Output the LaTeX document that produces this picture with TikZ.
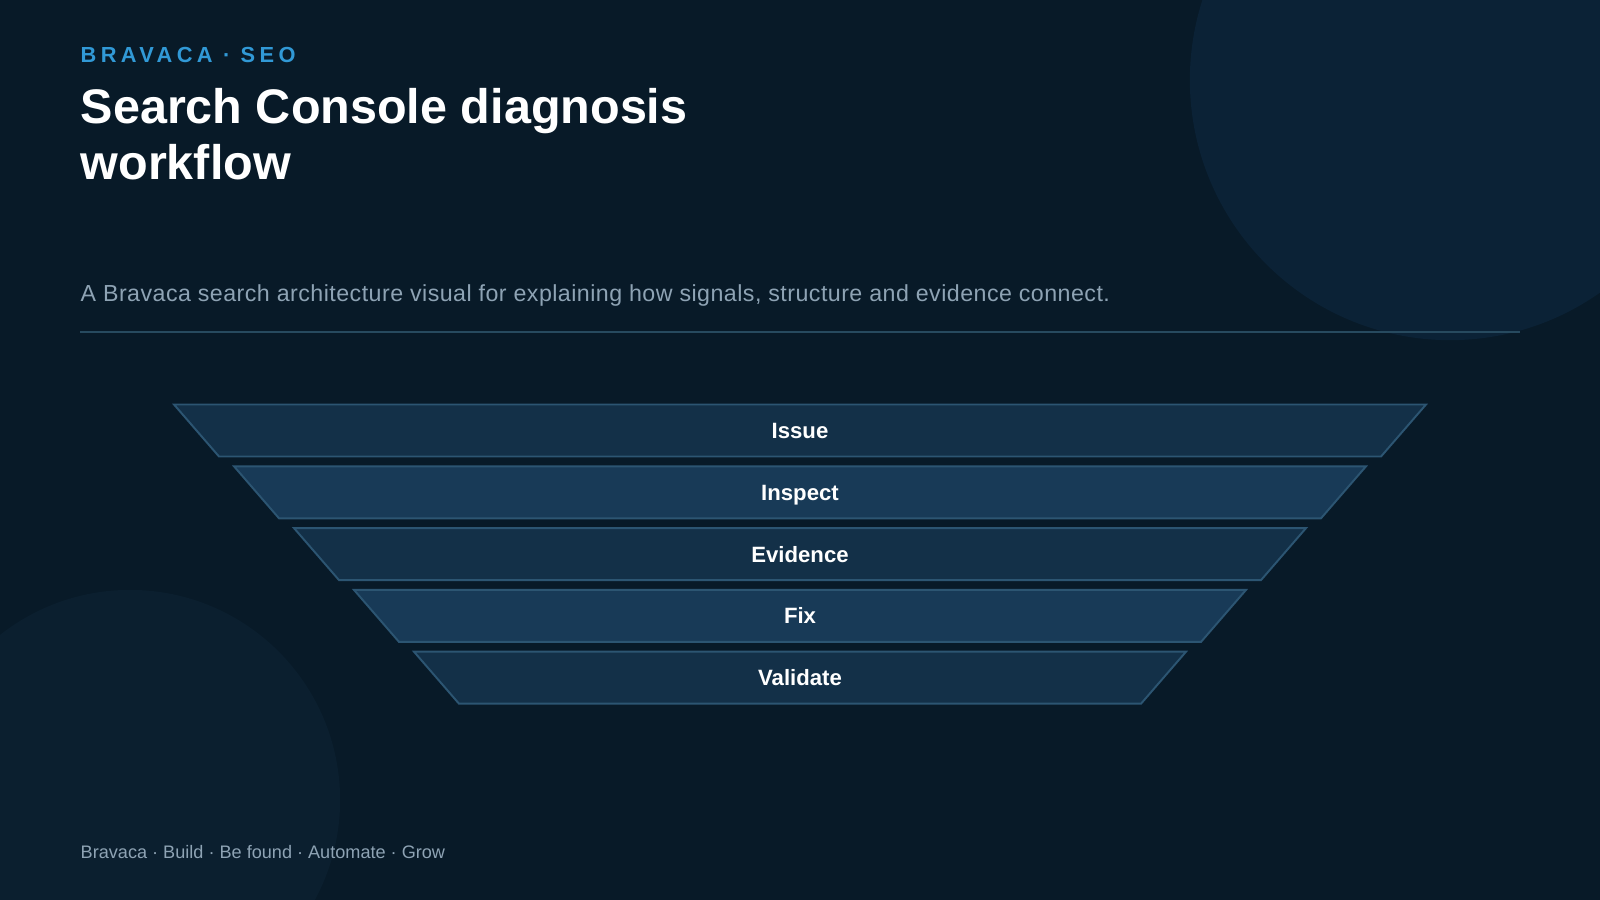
\documentclass[tikz,border=0pt]{standalone}
\usepackage{fontspec}
\setmainfont{Liberation Sans}
\usepackage{tikz}
\usetikzlibrary{positioning,calc}
\definecolor{bgNavy}{HTML}{081A28}
\definecolor{orbTop}{HTML}{0B2236}
\definecolor{orbLow}{HTML}{0B1F2F}
\definecolor{seoBlue}{HTML}{3199D6}
\definecolor{mutedText}{HTML}{8EA3B4}
\definecolor{ruleLine}{HTML}{274A5F}
\definecolor{bandDark}{HTML}{133048}
\definecolor{bandLight}{HTML}{183A57}
\definecolor{bandEdge}{HTML}{2C5572}

\begin{document}
\begin{tikzpicture}[
        x=0.01cm, y=-0.01cm,
        kicker/.style={anchor=base west, inner sep=0pt, text=seoBlue, font=\fontsize{6.2}{7}\selectfont\bfseries\addfontfeature{LetterSpace=20}},
        heading/.style={anchor=base west, inner sep=0pt, text=white, font=\fontsize{13.8}{16}\selectfont\bfseries},
        subheading/.style={anchor=base west, inner sep=0pt, text=mutedText, font=\fontsize{6.6}{7.8}\selectfont\addfontfeature{LetterSpace=2}},
        footnote/.style={anchor=base west, inner sep=0pt, text=mutedText, font=\fontsize{5.15}{6}\selectfont},
        band/.style={draw=bandEdge, line width=0.55pt, line join=miter},
        bandlabel/.style={anchor=base, inner sep=0pt, text=white, font=\fontsize{6.3}{7.5}\selectfont\bfseries}
    ]
        % Background
        \fill[bgNavy] (0,0) rectangle (1600,900);
        \useasboundingbox (0,0) rectangle (1600,900);
        \begin{scope}
            \clip (0,0) rectangle (1600,900);
            \fill[orbTop] (1450,80) circle[radius=2.6cm];
            \fill[orbLow] (130,800) circle[radius=2.1cm];
        \end{scope}
        
        % Header
        \node[kicker] (kicker) at (80,62) {BRAVACA · SEO};
        \node[heading] (title) at (80,123) {Search Console diagnosis};
        \node[heading] (title2) at (80,179) {workflow};
        \node[subheading] (lede) at (80,301) {A Bravaca search architecture visual for explaining how signals, structure and evidence connect.};
        \draw[ruleLine, line width=0.6pt] (80,332) -- (1520,332);
        
        % Funnel
        \foreach \lbl/\shade [count=\i from 0] in {Issue/bandDark, Inspect/bandLight, Evidence/bandDark, Fix/bandLight, Validate/bandDark}{
            \pgfmathsetmacro{\ytop}{404.5+61.8*\i}
            \pgfmathsetmacro{\ybot}{\ytop+52}
            \pgfmathsetmacro{\wtop}{626-60*\i}
            \pgfmathsetmacro{\wbot}{\wtop-45}
            \draw[band, fill=\shade] (800-\wtop,\ytop) -- (800+\wtop,\ytop) -- (800+\wbot,\ybot) -- (800-\wbot,\ybot) -- cycle;
            \node[bandlabel] (band\i) at (800,\ytop+34) {\lbl};
        }
        
        % Footer
        \node[footnote] (footer) at (80,858) {Bravaca · Build · Be found · Automate · Grow};
        
    \end{tikzpicture}
\end{document}
